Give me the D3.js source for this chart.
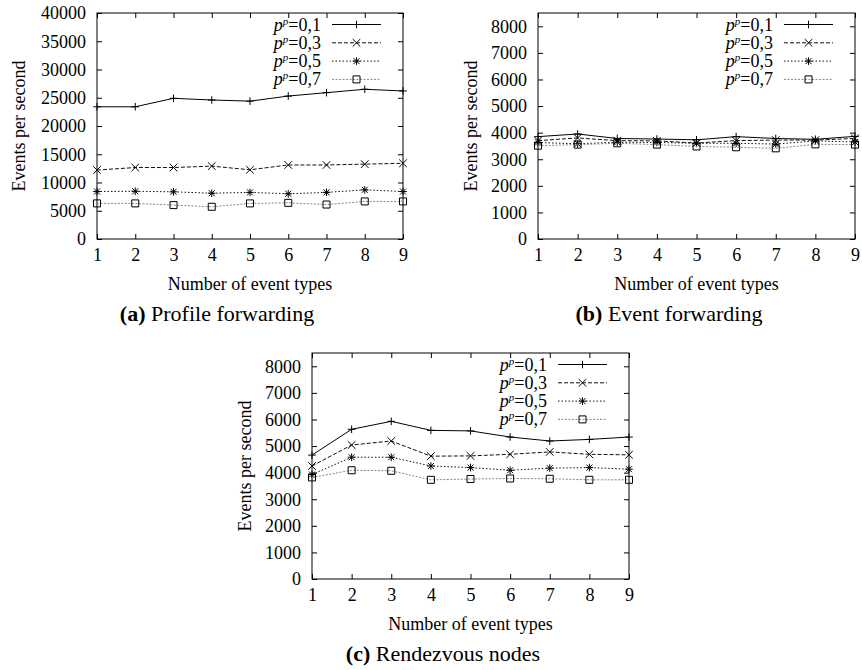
<!DOCTYPE html>
<html>
<head>
<meta charset="utf-8">
<script src="https://cdn.jsdelivr.net/npm/d3@7"></script>
<style>
    body { margin: 0; background: #fff; }
    svg text { font-family: "Times New Roman", "Liberation Serif", Times, serif; fill: #000; }
</style>
</head>
<body>
<svg id="chart" width="862" height="670"></svg>
<script>
// values
var eventTypes = [1, 2, 3, 4, 5, 6, 7, 8, 9];
var seriesNames = ["0,1", "0,3", "0,5", "0,7"];

var profileFwd01 = [23400, 23400, 24900, 24600, 24400, 25300, 25900, 26500, 26200];
var profileFwd03 = [12200, 12650, 12650, 12900, 12250, 13100, 13100, 13250, 13400];
var profileFwd05 = [8400, 8450, 8350, 8100, 8250, 8000, 8250, 8700, 8400];
var profileFwd07 = [6300, 6300, 6000, 5700, 6300, 6400, 6100, 6650, 6650];

var eventFwd01 = [3850, 3950, 3780, 3760, 3730, 3850, 3780, 3750, 3860];
var eventFwd03 = [3700, 3800, 3700, 3690, 3610, 3700, 3720, 3720, 3780];
var eventFwd05 = [3630, 3580, 3640, 3630, 3600, 3600, 3570, 3690, 3650];
var eventFwd07 = [3510, 3550, 3600, 3550, 3480, 3450, 3410, 3560, 3550];

var rendezvous01 = [4660, 5630, 5930, 5590, 5570, 5340, 5190, 5250, 5340];
var rendezvous03 = [4250, 5040, 5190, 4620, 4630, 4690, 4780, 4690, 4670];
var rendezvous05 = [3930, 4580, 4580, 4250, 4190, 4090, 4170, 4190, 4130];
var rendezvous07 = [3820, 4090, 4070, 3730, 3760, 3780, 3770, 3730, 3730];

var profileTicks = [0, 5000, 10000, 15000, 20000, 25000, 30000, 35000, 40000];
var smallTicks = [0, 1000, 2000, 3000, 4000, 5000, 6000, 7000, 8000];

var captions = [["(a)", " Profile forwarding"], ["(b)", " Event forwarding"], ["(c)", " Rendezvous nodes"]];

// line style per series: solid, dashed, dotted, grey dotted
var styles = [
    { stroke: "#000", dash: null, marker: "plus" },
    { stroke: "#111", dash: "4,2", marker: "cross" },
    { stroke: "#111", dash: "1.5,2", marker: "star" },
    { stroke: "#888", dash: "2,1.5", marker: "square" }
];

var panels = [
    { box: [97, 403, 13, 239], yMax: 40000, ticks: profileTicks, titleOffset: 72, cap: [217, 321],
      series: [profileFwd01, profileFwd03, profileFwd05, profileFwd07] },
    { box: [538, 855, 13, 239], yMax: 8500, ticks: smallTicks, titleOffset: 61, cap: [669, 321],
      series: [eventFwd01, eventFwd03, eventFwd05, eventFwd07] },
    { box: [312, 629, 353, 579], yMax: 8500, ticks: smallTicks, titleOffset: 61, cap: [443, 661],
      series: [rendezvous01, rendezvous03, rendezvous05, rendezvous07] }
];

var svg = d3.select("#chart");
var serif = "'Times New Roman', 'Liberation Serif', serif";

function drawMarker(g, kind, x, y) {
    var s = 3.8, d = 3, p;
    if (kind == "plus") p = "M" + (x - s) + "," + y + "H" + (x + s) + "M" + x + "," + (y - s) + "V" + (y + s);
    else if (kind == "cross") p = "M" + (x - s) + "," + (y - s) + "L" + (x + s) + "," + (y + s) + "M" + (x - s) + "," + (y + s) + "L" + (x + s) + "," + (y - s);
    else if (kind == "star") p = "M" + (x - s) + "," + y + "H" + (x + s) + "M" + x + "," + (y - s) + "V" + (y + s)
        + "M" + (x - d) + "," + (y - d) + "L" + (x + d) + "," + (y + d) + "M" + (x - d) + "," + (y + d) + "L" + (x + d) + "," + (y - d);
    else p = "M" + (x - 3.5) + "," + (y - 3.5) + "h7v7h-7Z";
    g.append("path").attr("d", p).attr("fill", "none").attr("stroke", "#000").attr("stroke-width", 1);
}

function drawPanel(cfg, idx) {
    var left = cfg.box[0], right = cfg.box[1], top = cfg.box[2], bottom = cfg.box[3];
    var x = d3.scaleLinear().domain([1, 9]).range([left, right]);
    var y = d3.scaleLinear().domain([0, cfg.yMax]).range([bottom, top]);
    var g = svg.append("g");

    // axes with inward ticks, mirrored on top and right
    var tl = 5;
    g.append("g").attr("transform", "translate(0," + bottom + ")")
        .call(d3.axisBottom(x).tickValues(eventTypes).tickSize(-tl).tickPadding(9).tickFormat(d3.format("d")));
    g.append("g").attr("transform", "translate(0," + top + ")")
        .call(d3.axisTop(x).tickValues(eventTypes).tickSize(-tl).tickFormat(""));
    g.append("g").attr("transform", "translate(" + left + ",0)")
        .call(d3.axisLeft(y).tickValues(cfg.ticks).tickSize(-tl).tickPadding(11).tickFormat(d3.format("d")));
    g.append("g").attr("transform", "translate(" + right + ",0)")
        .call(d3.axisRight(y).tickValues(cfg.ticks).tickSize(-tl).tickFormat(""));
    g.selectAll(".domain").remove();
    g.selectAll("g").attr("font-family", serif);
    g.selectAll(".tick line").attr("stroke", "#000");
    g.selectAll(".tick text").style("font-size", "18px").attr("fill", "#000").style("font-family", serif);
    g.append("rect").attr("x", left).attr("y", top).attr("width", right - left).attr("height", bottom - top)
        .attr("fill", "none").attr("stroke", "#000").attr("stroke-width", 1);

    // axis titles
    g.append("text").attr("x", (left + right) / 2).attr("y", bottom + 51)
        .attr("text-anchor", "middle").style("font-size", "18px").text("Number of event types");
    g.append("text").attr("transform", "translate(" + (left - cfg.titleOffset) + "," + ((top + bottom) / 2) + ") rotate(-90)")
        .attr("text-anchor", "middle").style("font-size", "18px").text("Events per second");

    // series
    var line = d3.line().x(function(d, i) { return x(eventTypes[i]); }).y(function(d) { return y(d); });
    cfg.series.forEach(function(values, s) {
        var st = styles[s];
        g.append("path").datum(values).attr("d", line).attr("fill", "none")
            .attr("stroke", st.stroke).attr("stroke-width", 1).attr("stroke-dasharray", st.dash);
        values.forEach(function(v, i) { drawMarker(g, st.marker, x(eventTypes[i]), y(v)); });
    });

    // legend
    seriesNames.forEach(function(name, s) {
        var st = styles[s], ly = top + 11.5 + s * 18.3;
        var xs = right - 71, xe = right - 22;
        g.append("line").attr("x1", xs).attr("x2", xe).attr("y1", ly).attr("y2", ly)
            .attr("stroke", st.stroke).attr("stroke-width", 1).attr("stroke-dasharray", st.dash);
        drawMarker(g, st.marker, (xs + xe) / 2, ly);
        var t = g.append("text").attr("x", right - 82).attr("y", ly + 6).attr("text-anchor", "end").style("font-size", "18px");
        t.append("tspan").style("font-style", "italic").text("p");
        t.append("tspan").style("font-style", "italic").style("font-size", "11px").attr("dy", -6).text("p");
        t.append("tspan").attr("dy", 6).text("=" + name);
    });

    // caption
    var c = g.append("text").attr("x", cfg.cap[0]).attr("y", cfg.cap[1]).attr("text-anchor", "middle").style("font-size", "22px");
    c.append("tspan").style("font-weight", "bold").text(captions[idx][0]);
    c.append("tspan").text(captions[idx][1]);
}

panels.forEach(drawPanel);
</script>
</body>
</html>
